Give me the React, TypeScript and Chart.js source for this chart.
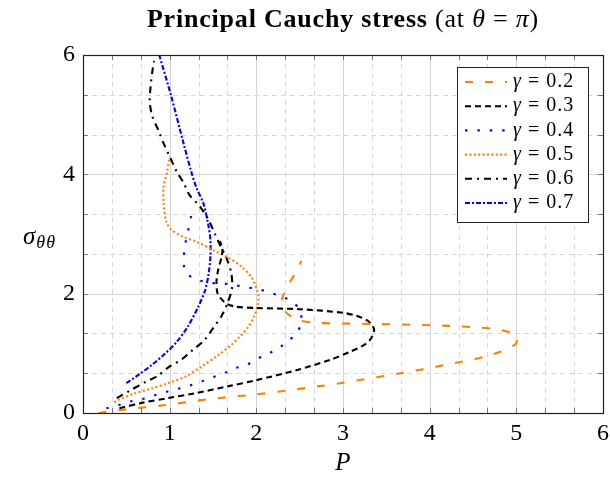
import React, { useEffect, useRef } from 'react';
import { Chart, registerables } from 'chart.js';

Chart.register(...registerables);

// ---- data ----
const gammaLabels = ['0.2', '0.3', '0.4', '0.5', '0.6', '0.7'];

const p02 = [0.18, 0.43, 0.93, 1.5, 1.93, 2.27, 2.73, 2.97, 3.66, 4.16, 4.7, 4.98, 5.01, 4.95, 4.73, 4.23, 3.43, 2.7, 2.5, 2.4, 2.32, 2.29, 2.31, 2.37, 2.45, 2.52];
const s02 = [0.0, 0.05, 0.13, 0.24, 0.3, 0.36, 0.45, 0.5, 0.665, 0.8, 0.97, 1.14, 1.25, 1.34, 1.41, 1.46, 1.49, 1.51, 1.55, 1.62, 1.72, 1.84, 1.97, 2.15, 2.35, 2.55];

const p03 = [0.42, 0.68, 0.98, 1.29, 1.68, 2.0, 2.47, 2.85, 3.07, 3.22, 3.31, 3.36, 3.33, 3.27, 3.15, 3.0, 2.5, 2.0, 1.77, 1.66, 1.59, 1.55, 1.54, 1.56, 1.6, 1.61, 1.58];
const s03 = [0.08, 0.17, 0.25, 0.33, 0.45, 0.55, 0.72, 0.89, 1.02, 1.12, 1.22, 1.39, 1.48, 1.56, 1.63, 1.68, 1.74, 1.76, 1.78, 1.83, 1.92, 2.02, 2.2, 2.4, 2.62, 2.75, 2.88];

const p04 = [0.27, 0.41, 0.54, 0.68, 0.81, 0.95, 1.08, 1.21, 1.35, 1.48, 1.62, 1.75, 1.88, 2.0, 2.13, 2.25, 2.37, 2.47, 2.52, 2.5, 2.41, 2.28, 2.15, 2.01, 1.87, 1.73, 1.6, 1.47, 1.33, 1.2, 1.16, 1.17, 1.19, 1.22, 1.25];
const s04 = [0.08, 0.13, 0.19, 0.23, 0.29, 0.35, 0.4, 0.45, 0.52, 0.59, 0.66, 0.75, 0.8, 0.9, 0.99, 1.08, 1.21, 1.35, 1.53, 1.73, 1.87, 1.96, 2.02, 2.08, 2.11, 2.15, 2.17, 2.18, 2.23, 2.33, 2.51, 2.72, 2.91, 3.11, 3.32];

const p05 = [0.36, 0.41, 0.6, 0.79, 0.98, 1.18, 1.37, 1.56, 1.71, 1.81, 1.91, 1.98, 2.02, 2.02, 1.95, 1.83, 1.68, 1.5, 1.31, 1.16, 1.02, 0.96, 0.93, 0.93, 0.97, 1.0];
const s05 = [0.18, 0.22, 0.33, 0.41, 0.5, 0.61, 0.78, 0.97, 1.14, 1.28, 1.45, 1.64, 1.84, 2.0, 2.26, 2.45, 2.6, 2.73, 2.87, 2.95, 3.07, 3.21, 3.51, 3.79, 4.04, 4.3];

const p06 = [0.39, 0.56, 0.72, 0.86, 1.0, 1.14, 1.27, 1.4, 1.5, 1.6, 1.67, 1.72, 1.71, 1.66, 1.58, 1.52, 1.45, 1.35, 1.23, 1.16, 1.08, 1.0, 0.93, 0.87, 0.8, 0.77, 0.78, 0.8, 0.82];
const s06 = [0.25, 0.39, 0.52, 0.62, 0.78, 0.9, 1.06, 1.22, 1.42, 1.63, 1.85, 2.1, 2.35, 2.58, 2.82, 3.01, 3.23, 3.46, 3.65, 3.86, 4.05, 4.3, 4.52, 4.74, 4.97, 5.22, 5.47, 5.72, 5.9];

const p07 = [0.5, 0.64, 0.79, 0.95, 1.08, 1.21, 1.33, 1.41, 1.45, 1.47, 1.47, 1.45, 1.39, 1.31, 1.25, 1.16, 1.02, 0.88];
const s07 = [0.5, 0.64, 0.8, 1.0, 1.19, 1.45, 1.78, 2.06, 2.34, 2.62, 2.9, 3.12, 3.51, 3.77, 4.04, 4.52, 5.3, 6.0];

const xTicks = [0, 1, 2, 3, 4, 5, 6];
const yTicks = [0, 2, 4, 6];

const seriesP = [p02, p03, p04, p05, p06, p07];
const seriesS = [s02, s03, s04, s05, s06, s07];
const colors = ['#ff8000', '#000000', '#0000ff', '#ff8000', '#000000', '#0000ff'];
const dashes = [
  [8, 12],
  [6, 4],
  [2.4, 10],
  [2, 2.4],
  [7, 5, 2, 5],
  [5, 2, 2, 2],
];

const SERIF = '"Liberation Serif", "DejaVu Serif", serif';

const customPlugin = {
  id: 'customDecor',
  beforeDatasetsDraw(chart: any) {
    const { ctx, chartArea: a, scales } = chart;
    const x = scales.x;
    const y = scales.y;
    ctx.save();
    ctx.strokeStyle = '#d8d8d8';
    ctx.lineWidth = 1;
    ctx.setLineDash([5, 4]);
    for (let i = 0; i < xTicks.length - 1; i++) {
      const step = (xTicks[i + 1] - xTicks[i]) / 3;
      for (let k = 1; k < 3; k++) {
        const px = Math.round(x.getPixelForValue(xTicks[i] + k * step)) + 0.5;
        ctx.beginPath();
        ctx.moveTo(px, a.top);
        ctx.lineTo(px, a.bottom);
        ctx.stroke();
      }
    }
    for (let i = 0; i < yTicks.length - 1; i++) {
      const step = (yTicks[i + 1] - yTicks[i]) / 3;
      for (let k = 1; k < 3; k++) {
        const py = Math.round(y.getPixelForValue(yTicks[i] + k * step)) + 0.5;
        ctx.beginPath();
        ctx.moveTo(a.left, py);
        ctx.lineTo(a.right, py);
        ctx.stroke();
      }
    }
    ctx.setLineDash([]);
    ctx.strokeStyle = '#d4d4d4';
    for (const v of xTicks) {
      const px = Math.round(x.getPixelForValue(v)) + 0.5;
      ctx.beginPath();
      ctx.moveTo(px, a.top);
      ctx.lineTo(px, a.bottom);
      ctx.stroke();
    }
    for (const v of yTicks) {
      const py = Math.round(y.getPixelForValue(v)) + 0.5;
      ctx.beginPath();
      ctx.moveTo(a.left, py);
      ctx.lineTo(a.right, py);
      ctx.stroke();
    }
    ctx.restore();
  },
  afterDatasetsDraw(chart: any) {
    const { ctx, chartArea: a, scales } = chart;
    const x = scales.x;
    const y = scales.y;
    ctx.save();
    ctx.strokeStyle = '#777777';
    ctx.lineWidth = 1;
    const xs: number[] = [];
    for (let i = 0; i < xTicks.length - 1; i++) {
      const step = (xTicks[i + 1] - xTicks[i]) / 3;
      for (let k = 0; k < 3; k++) xs.push(xTicks[i] + k * step);
    }
    xs.push(xTicks[xTicks.length - 1]);
    const ys: number[] = [];
    for (let i = 0; i < yTicks.length - 1; i++) {
      const step = (yTicks[i + 1] - yTicks[i]) / 3;
      for (let k = 0; k < 3; k++) ys.push(yTicks[i] + k * step);
    }
    ys.push(yTicks[yTicks.length - 1]);
    for (const v of xs) {
      const px = Math.round(x.getPixelForValue(v)) + 0.5;
      ctx.beginPath();
      ctx.moveTo(px, a.bottom);
      ctx.lineTo(px, a.bottom - 5);
      ctx.moveTo(px, a.top);
      ctx.lineTo(px, a.top + 5);
      ctx.stroke();
    }
    for (const v of ys) {
      const py = Math.round(y.getPixelForValue(v)) + 0.5;
      ctx.beginPath();
      ctx.moveTo(a.left, py);
      ctx.lineTo(a.left + 5, py);
      ctx.moveTo(a.right, py);
      ctx.lineTo(a.right - 5, py);
      ctx.stroke();
    }
    ctx.strokeStyle = '#222222';
    ctx.lineWidth = 1.2;
    ctx.strokeRect(Math.round(a.left) + 0.5, Math.round(a.top) + 0.5, Math.round(a.right - a.left), Math.round(a.bottom - a.top));

    // legend
    const bw = 131;
    const bh = 155;
    const bx = a.right - 15 - bw;
    const by = a.top + 12;
    ctx.fillStyle = '#ffffff';
    ctx.fillRect(bx, by, bw, bh);
    ctx.strokeStyle = '#222222';
    ctx.lineWidth = 1;
    ctx.strokeRect(Math.round(bx) + 0.5, Math.round(by) + 0.5, bw, bh);
    const ds = chart.data.datasets;
    for (let i = 0; i < ds.length; i++) {
      const cy = by + 15 + i * 24.2;
      ctx.strokeStyle = ds[i].borderColor;
      ctx.lineWidth = ds[i].borderWidth;
      ctx.setLineDash(ds[i].borderDash);
      ctx.beginPath();
      ctx.moveTo(bx + 8, cy);
      ctx.lineTo(bx + 50, cy);
      ctx.stroke();
      ctx.setLineDash([]);
      ctx.fillStyle = '#000';
      ctx.textBaseline = 'middle';
      ctx.textAlign = 'left';
      (ctx as any).letterSpacing = '1px';
      ctx.font = 'italic 20px ' + SERIF;
      ctx.fillText('γ', bx + 56, cy);
      const gw = ctx.measureText('γ').width;
      ctx.font = '20px ' + SERIF;
      ctx.fillText(' = ' + gammaLabels[i], bx + 56 + gw, cy);
      (ctx as any).letterSpacing = '0px';
    }

    // axis labels
    ctx.fillStyle = '#000';
    ctx.textAlign = 'center';
    ctx.textBaseline = 'middle';
    ctx.font = 'italic 25px ' + SERIF;
    ctx.fillText('P', (a.left + a.right) / 2, 463);

    ctx.textAlign = 'left';
    ctx.font = 'italic 25px ' + SERIF;
    const yc = 237;
    ctx.fillText('σ', 23, yc);
    const sw = ctx.measureText('σ').width;
    ctx.font = 'italic 18px ' + SERIF;
    (ctx as any).letterSpacing = '1px';
    ctx.fillText('θθ', 23 + sw + 1, yc + 6);
    (ctx as any).letterSpacing = '0px';

    // title
    const parts: [string, string][] = [
      ['bold 26px ' + SERIF, 'Principal Cauchy stress'],
      ['26px ' + SERIF, ' (at '],
      ['italic 26px ' + SERIF, 'θ'],
      ['26px ' + SERIF, ' = '],
      ['italic 26px ' + SERIF, 'π'],
      ['26px ' + SERIF, ')'],
    ];
    (ctx as any).letterSpacing = '0.8px';
    let total = 0;
    for (const [f, t] of parts) {
      ctx.font = f;
      total += ctx.measureText(t).width;
    }
    let tx = (a.left + a.right) / 2 - total / 2;
    ctx.textBaseline = 'alphabetic';
    for (const [f, t] of parts) {
      ctx.font = f;
      ctx.fillText(t, tx, 27);
      tx += ctx.measureText(t).width;
    }
    (ctx as any).letterSpacing = '0px';
    ctx.restore();
  },
};

export default function App() {
  const ref = useRef<HTMLCanvasElement | null>(null);
  useEffect(() => {
    if (!ref.current) return;
    const datasets = seriesP.map((pArr, i) => ({
      label: 'γ = ' + gammaLabels[i],
      data: pArr.map((p, j) => ({ x: p, y: seriesS[i][j] })),
      borderColor: colors[i],
      backgroundColor: colors[i],
      borderWidth: 2.1,
      borderDash: dashes[i],
      showLine: true,
      pointRadius: 0,
      tension: 0.3,
      fill: false,
    }));
    const chart = new Chart(ref.current, {
      type: 'scatter',
      data: { datasets },
      options: {
        animation: false,
        responsive: false,
        devicePixelRatio: 1,
        layout: { padding: { left: 0, right: 0, top: 55, bottom: 0 } },
        plugins: { legend: { display: false }, tooltip: { enabled: false }, title: { display: false } },
        scales: {
          x: {
            type: 'linear',
            min: 0,
            max: 6,
            grid: { display: false, drawTicks: false, tickLength: 0 },
            border: { display: false },
            ticks: { stepSize: 1, color: '#000', padding: 6, font: { family: SERIF, size: 24 } },
            afterFit: (s: any) => { s.height = 65; s.paddingRight = 7; s.paddingLeft = 0; },
          },
          y: {
            type: 'linear',
            min: 0,
            max: 6,
            grid: { display: false, drawTicks: false, tickLength: 0 },
            border: { display: false },
            ticks: { stepSize: 2, color: '#000', padding: 8, font: { family: SERIF, size: 24 } },
            afterFit: (s: any) => { s.width = 83; s.paddingTop = 0; s.paddingBottom = 0; },
          },
        },
      },
      plugins: [customPlugin],
    });
    return () => chart.destroy();
  }, []);
  return (
    <div style={{ position: 'fixed', left: 0, top: 0, width: 610, height: 478, background: '#fff' }}>
      <canvas ref={ref} width={610} height={478} style={{ width: 610, height: 478, display: 'block' }} />
    </div>
  );
}
